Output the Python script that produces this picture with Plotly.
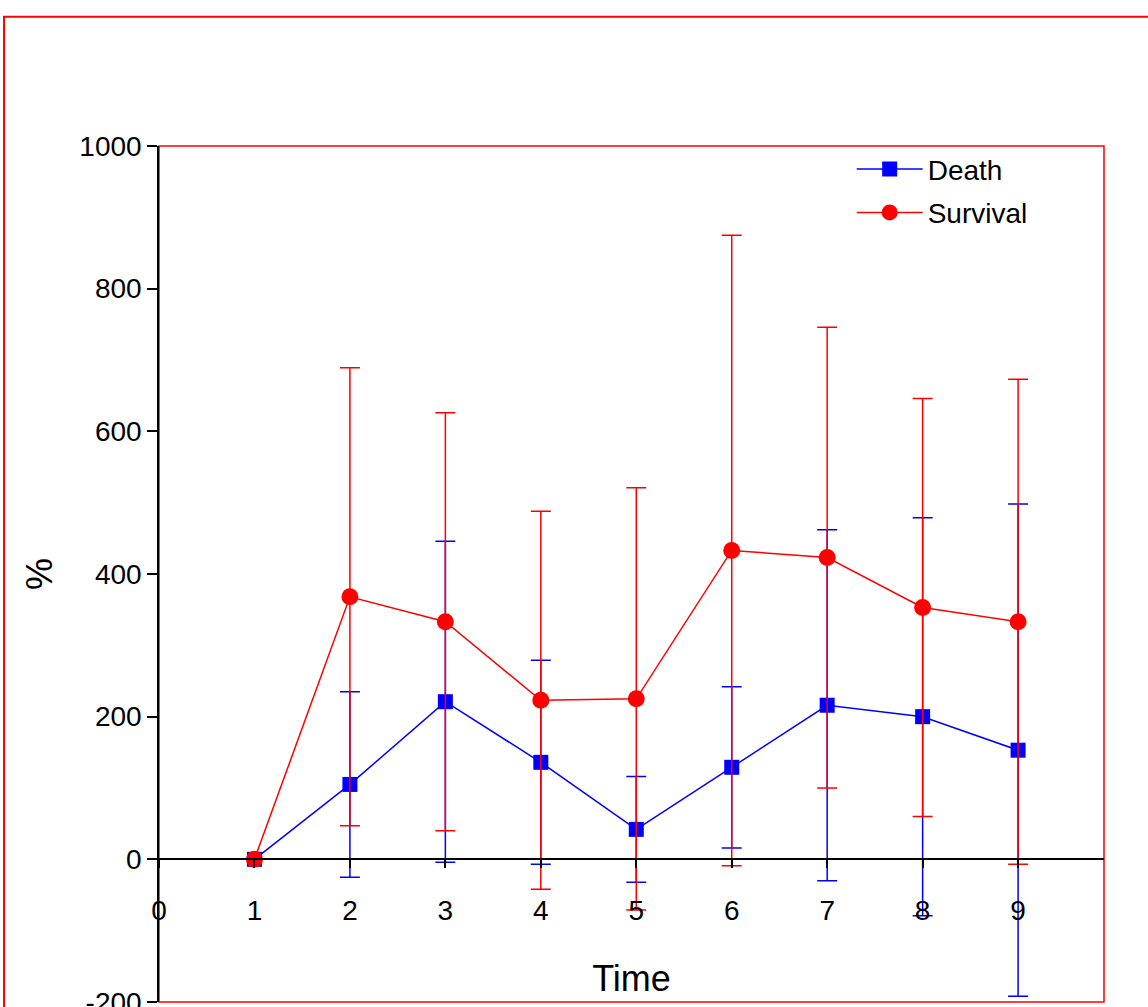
import plotly.graph_objects as go

# Time points
time = [1, 2, 3, 4, 5, 6, 7, 8, 9]

# Death group: mean % and symmetric error
death_mean = [0, 105, 221, 136, 42, 129, 216, 200, 153]
death_err = [0, 130, 225, 143, 74, 113, 246, 279, 345]

# Survival group: mean % and symmetric error
survival_mean = [0, 368, 333, 223, 225, 433, 423, 353, 333]
survival_err = [0, 321, 293, 265, 296, 442, 323, 293, 340]

x_ticks = [0, 1, 2, 3, 4, 5, 6, 7, 8, 9]
y_ticks = [-200, 0, 200, 400, 600, 800, 1000]
y_tick_text = ["-200", "0", "200", "400", "600", "800", "1000"]

FONT = "Liberation Sans, Arial, sans-serif"

fig = go.Figure()

fig.add_trace(go.Scatter(
    x=time, y=death_mean, name="Death", legendgroup="death",
    mode="lines+markers",
    line=dict(color="#0000ff", width=1.5),
    marker=dict(symbol="square", size=15, color="#0000ff"),
    error_y=dict(type="data", array=death_err, symmetric=True,
                 color="#0000ff", thickness=1.5, width=10),
))

fig.add_trace(go.Scatter(
    x=time, y=survival_mean, name="Survival", legendgroup="survival",
    mode="lines+markers",
    line=dict(color="#ff0000", width=1.5),
    marker=dict(symbol="circle", size=17, color="#ff0000"),
    error_y=dict(type="data", array=survival_err, symmetric=True,
                 color="#ff0000", thickness=1.5, width=10),
))

y_lo, y_hi = -200, 1000

fig.update_layout(
    width=1148, height=1007,
    margin=dict(l=159, r=44, t=146, b=5),
    paper_bgcolor="white", plot_bgcolor="white",
    font=dict(family=FONT, color="black", size=28),
    showlegend=True,
    legend=dict(
        x=0.733, y=1.002, xanchor="left", yanchor="top",
        bgcolor="rgba(0,0,0,0)", font=dict(size=28),
        itemwidth=66, tracegroupgap=4,
    ),
    xaxis=dict(
        range=[0, 9.9], tickvals=x_ticks, ticktext=[str(v) for v in x_ticks],
        anchor="free", position=(0 - y_lo) / (y_hi - y_lo),
        showline=True, linecolor="black", linewidth=1.5,
        ticks="outside", ticklen=8, tickcolor="black", tickwidth=1.5,
        ticklabelstandoff=18, automargin=False,
        showgrid=False, zeroline=False,
        title=dict(text="Time", font=dict(size=36), standoff=40),
    ),
    yaxis=dict(
        range=[y_lo, y_hi], tickvals=y_ticks, ticktext=y_tick_text,
        showline=True, linecolor="black", linewidth=1.5,
        ticks="outside", ticklen=10, tickcolor="black", tickwidth=1.5,
        ticklabeloverflow="allow", automargin=False,
        showgrid=False, zeroline=False,
        title=dict(text="%", font=dict(size=36), standoff=16),
    ),
    shapes=[
        # red frame around the plotting area
        dict(type="rect", xref="paper", yref="paper", x0=0, x1=1, y0=0, y1=1,
             line=dict(color="#ff0000", width=1.5), layer="below"),
        # red outer border of the page
        dict(type="rect", xref="paper", yref="paper",
             x0=-0.164, x1=1.2, y0=-0.2, y1=1.151,
             line=dict(color="#ff0000", width=2), layer="below"),
    ],
)

fig.write_html("out.html")
